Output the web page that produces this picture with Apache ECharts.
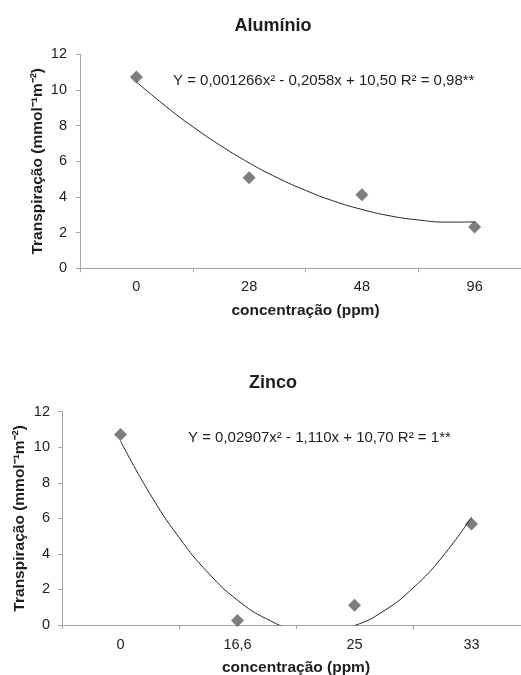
<!DOCTYPE html>
<html>
<head>
<meta charset="utf-8">
<script src="https://cdn.jsdelivr.net/npm/echarts@6/dist/echarts.min.js"></script>
<style>
html,body{margin:0;padding:0;background:#fff;}
#chart{width:521px;height:675px;}
</style>
</head>
<body>
<div id="chart"></div>
<script>
// ---- Data ----
const titleAl = 'Alumínio';
const titleZn = 'Zinco';
const catsAl = ['0', '28', '48', '96'];
const valsAl = [10.73, 5.08, 4.13, 2.32];
const catsZn = ['0', '16,6', '25', '33'];
const valsZn = [10.72, 0.26, 1.11, 5.68];
// trend curves read at quarter-category positions (0 = first category)
const trendPos = [0, 0.25, 0.5, 0.75, 1, 1.25, 1.5, 1.75, 2, 2.25, 2.5, 2.75, 3];
const trendAl = [10.45, 9.14, 7.94, 6.87, 5.91, 5.08, 4.37, 3.77, 3.30, 2.94, 2.71, 2.59, 2.60];
const trendZn = [10.35, 7.40, 4.93, 2.93, 1.40, 0.34, -0.25, -0.38, -0.03, 0.79, 2.08, 3.83, 6.06];
const eqAl = 'Y = 0,001266x² - 0,2058x + 10,50 R² = 0,98**';
const eqZn = 'Y = 0,02907x² - 1,110x + 10,70 R² = 1**';
const yMin = 0, yMax = 12, yStep = 2;
const xName = 'concentração (ppm)';
const yName = 'Transpiração (mmol⁻¹m⁻²)';

const FONT = "'Liberation Sans', Arial, sans-serif";
const AXIS_COLOR = '#a6a6a6';
const TEXT_COLOR = '#1e1e1e';
const MARK_COLOR = '#5e5e5e';

function pairs(xs, ys) { return xs.map((x, i) => [x, ys[i]]); }

function catAxis(grid, cats, margin, gap) {
  return {
    type: 'category', gridIndex: grid, data: cats, boundaryGap: true,
    axisLine: { show: true, onZero: false, lineStyle: { color: AXIS_COLOR, width: 1 } },
    axisTick: { show: true, alignWithLabel: false, length: 4, lineStyle: { color: AXIS_COLOR } },
    axisLabel: { color: TEXT_COLOR, fontSize: 14.5, fontFamily: FONT, margin: margin },
    splitLine: { show: false },
    name: xName, nameLocation: 'middle', nameGap: gap, nameMoveOverlap: false,
    nameTextStyle: { color: TEXT_COLOR, fontSize: 15.5, fontWeight: 'bold', fontFamily: FONT }
  };
}
function hiddenX(grid) {
  return { type: 'value', gridIndex: grid, min: -0.5, max: 3.5, show: false,
           axisLine: { onZero: false } };
}
function valAxis(grid, margin, gap) {
  return {
    type: 'value', gridIndex: grid, min: yMin, max: yMax, interval: yStep,
    axisLine: { show: true, onZero: false, lineStyle: { color: AXIS_COLOR, width: 1 } },
    axisTick: { show: true, length: 4, lineStyle: { color: AXIS_COLOR } },
    axisLabel: { color: TEXT_COLOR, fontSize: 14.5, fontFamily: FONT, margin: margin },
    splitLine: { show: false },
    name: yName, nameLocation: 'middle', nameRotate: 90, nameGap: gap, nameMoveOverlap: false,
    nameTextStyle: { color: TEXT_COLOR, fontSize: 15.5, fontWeight: 'bold', fontFamily: FONT }
  };
}

const chart = echarts.init(document.getElementById('chart'), null, { renderer: 'canvas' });
chart.setOption({
  backgroundColor: '#ffffff',
  animation: false,
  title: [
    { text: titleAl, left: 268, top: 12, textAlign: 'center',
      textStyle: { fontSize: 18, fontWeight: 'bold', color: TEXT_COLOR, fontFamily: FONT } },
    { text: titleZn, left: 268, top: 369, textAlign: 'center',
      textStyle: { fontSize: 18, fontWeight: 'bold', color: TEXT_COLOR, fontFamily: FONT } }
  ],
  grid: [
    { left: 80, top: 54.3, width: 451, height: 214, containLabel: false, outerBoundsMode: 'none' },
    { left: 62, top: 411.7, width: 468, height: 213.3, containLabel: false, outerBoundsMode: 'none' }
  ],
  xAxis: [catAxis(0, catsAl, 11, 34), hiddenX(0), catAxis(1, catsZn, 12, 34.5), hiddenX(1)],
  yAxis: [valAxis(0, 13, 34), valAxis(1, 12, 34)],
  graphic: [
    { type: 'text', left: 173, top: 73,
      style: { text: eqAl, fill: TEXT_COLOR, font: '15px ' + FONT } },
    { type: 'text', left: 188, top: 430,
      style: { text: eqZn, fill: TEXT_COLOR, font: '15px ' + FONT } }
  ],
  series: [
    { type: 'line', xAxisIndex: 1, yAxisIndex: 0, data: pairs(trendPos, trendAl),
      smooth: true, showSymbol: false, clip: true, silent: true,
      lineStyle: { color: '#262626', width: 1 } },
    { type: 'scatter', xAxisIndex: 0, yAxisIndex: 0, data: valsAl,
      symbol: 'diamond', symbolSize: 13, itemStyle: { color: MARK_COLOR } },
    { type: 'line', xAxisIndex: 3, yAxisIndex: 1, data: pairs(trendPos, trendZn),
      smooth: true, showSymbol: false, clip: true, silent: true,
      lineStyle: { color: '#262626', width: 1 } },
    { type: 'scatter', xAxisIndex: 2, yAxisIndex: 1, data: valsZn,
      symbol: 'diamond', symbolSize: 13, itemStyle: { color: MARK_COLOR } }
  ]
});
</script>
</body>
</html>
